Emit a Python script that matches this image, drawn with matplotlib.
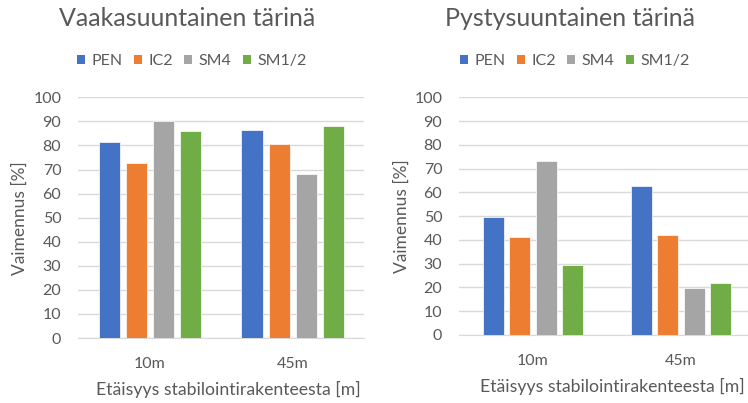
import numpy as np
import matplotlib.pyplot as plt
from matplotlib.patches import Patch

plt.rcParams['font.family'] = ['Lato', 'DejaVu Sans']

categories = ['10m', '45m']
series = ['PEN', 'IC2', 'SM4', 'SM1/2']
colors = ['#4472C4', '#ED7D31', '#A5A5A5', '#70AD47']

# Vaakasuuntainen (horizontal)
vaaka_pen = [81.4, 86.4]
vaaka_ic2 = [72.7, 80.7]
vaaka_sm4 = [90.3, 68.1]
vaaka_sm12 = [86.0, 87.9]

# Pystysuuntainen (vertical)
pysty_pen = [49.7, 62.7]
pysty_ic2 = [41.1, 42.2]
pysty_sm4 = [73.3, 19.7]
pysty_sm12 = [29.5, 22.0]

W, H = 748, 403
txt = '#595959'


def draw(ax, data, width, step):
    x = np.arange(len(categories))
    for i, (vals, c) in enumerate(zip(data, colors)):
        ax.bar(x + (i - 1.5) * step, vals, width, color=c,
               edgecolor='white', linewidth=0.5, zorder=3)
    ax.set_xlim(-0.5, 1.5)
    ax.set_ylim(0, 100)
    ax.set_yticks(range(0, 101, 10))
    ax.set_xticks(x)
    ax.set_xticklabels(categories)
    ax.yaxis.grid(True, color='#d9d9d9', linewidth=1, zorder=0)
    for s in ['top', 'right', 'left']:
        ax.spines[s].set_visible(False)
    ax.spines['bottom'].set_color('#d9d9d9')
    ax.tick_params(axis='both', length=0, labelsize=11.5, colors=txt)
    ax.tick_params(axis='y', pad=12)
    ax.tick_params(axis='x', pad=14)


fig = plt.figure(figsize=(W / 100, H / 100), dpi=100)

ax1 = fig.add_axes([78 / W, 1 - 338 / H, 286 / W, (338 - 97.3) / H])
draw(ax1, [vaaka_pen, vaaka_ic2, vaaka_sm4, vaaka_sm12], 21 / 143, 27 / 143)

ax2 = fig.add_axes([459 / W, 1 - 335 / H, 296 / W, (335 - 97.3) / H])
draw(ax2, [pysty_pen, pysty_ic2, pysty_sm4, pysty_sm12], 21 / 148, 26.5 / 148)

# titles
fig.text(187 / W, 1 - 18 / H, 'Vaakasuuntainen tärinä', ha='center', va='center',
         fontsize=18, color=txt)
fig.text(570 / W, 1 - 18 / H, 'Pystysuuntainen tärinä', ha='center', va='center',
         fontsize=18, color=txt)

# axis labels
fig.text(20 / W, 1 - 218 / H, 'Vaimennus [%]', rotation=90, ha='center', va='center',
         fontsize=12.5, color=txt)
fig.text(402 / W, 1 - 216 / H, 'Vaimennus [%]', rotation=90, ha='center', va='center',
         fontsize=12.5, color=txt)
fig.text(228 / W, 1 - 389 / H, 'Etäisyys stabilointirakenteesta [m]', ha='center',
         va='center', fontsize=12.7, color=txt)
fig.text(612 / W, 1 - 386 / H, 'Etäisyys stabilointirakenteesta [m]', ha='center',
         va='center', fontsize=12.7, color=txt)

# legends
handles = [Patch(facecolor=c, label=s) for c, s in zip(colors, series)]
for cx in [192, 575]:
    fig.legend(handles=handles, loc='center', bbox_to_anchor=(cx / W, 1 - 61 / H),
               ncol=4, frameon=False, fontsize=11.5, handlelength=0.5,
               handleheight=0.5, handletextpad=0.4, columnspacing=0.7,
               labelcolor=txt)

fig.savefig('out.png', dpi=100)
